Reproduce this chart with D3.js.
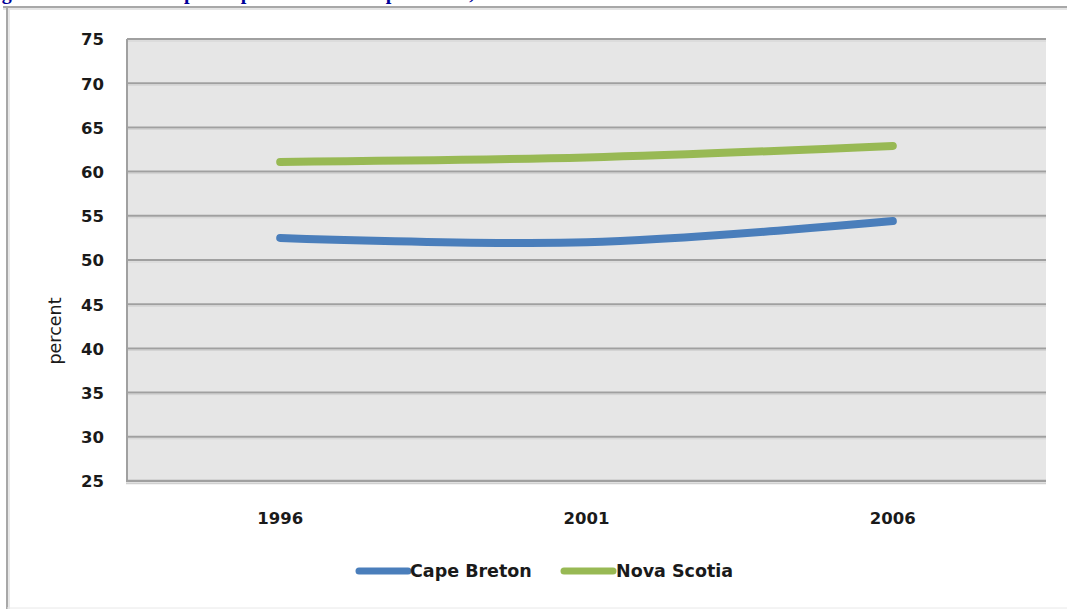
<!DOCTYPE html>
<html>
<head>
<meta charset="utf-8">
<script src="https://cdn.jsdelivr.net/npm/d3@7"></script>
<style>
  html, body { margin: 0; padding: 0; background: #fff; overflow: hidden; }
  svg { display: block; }
</style>
</head>
<body>
<svg id="chart" width="1067" height="609"></svg>
<script>
const titleText = "Figure 7: Labour force participation rate in Cape Breton, 1996 to 2006";
const years = ["1996", "2001", "2006"];
const capeBreton = [52.5, 52.0, 54.4];
const novaScotia = [61.1, 61.6, 62.9];
const seriesNames = ["Cape Breton", "Nova Scotia"];
const seriesColors = ["#4a7ebb", "#98b954"];
const yTicks = [25, 30, 35, 40, 45, 50, 55, 60, 65, 70, 75];
const yLabel = "percent";

const svg = d3.select("#chart");
const W = 1067, H = 609;
const plot = { left: 127, right: 1046, top: 39, bottom: 481 };
const font = "'DejaVu Sans', sans-serif";

// cropped title at very top (the reference shows only its lowest pixels)
svg.append("text")
  .attr("x", -16).attr("y", -1.5)
  .attr("font-family", "'Liberation Serif', serif")
  .attr("font-weight", "bold")
  .attr("font-size", 20)
  .attr("fill", "#000099")
  .text(titleText);

// outer frame
svg.append("line").attr("x1", 3).attr("x2", W).attr("y1", 7).attr("y2", 7)
  .attr("stroke", "#a8a8a8").attr("stroke-width", 2);
svg.append("line").attr("x1", 3).attr("x2", W).attr("y1", 9).attr("y2", 9)
  .attr("stroke", "#dcdcdc").attr("stroke-width", 1.5);
svg.append("line").attr("x1", 7).attr("x2", 7).attr("y1", 7).attr("y2", H)
  .attr("stroke", "#a8a8a8").attr("stroke-width", 2);
svg.append("line").attr("x1", 9).attr("x2", 9).attr("y1", 9).attr("y2", H)
  .attr("stroke", "#e0e0e0").attr("stroke-width", 1.5);
svg.append("line").attr("x1", 7).attr("x2", W).attr("y1", 608).attr("y2", 608)
  .attr("stroke", "#e8e8e8").attr("stroke-width", 1);

const x = d3.scaleBand().domain(years).range([plot.left, plot.right]);
const y = d3.scaleLinear().domain([25, 75]).range([plot.bottom, plot.top]);

// plot background
svg.append("rect")
  .attr("x", plot.left).attr("y", plot.top)
  .attr("width", plot.right - plot.left).attr("height", plot.bottom - plot.top)
  .attr("fill", "#e6e6e6");

// gridlines
const grid = svg.append("g");
grid.selectAll("line.g").data(yTicks.filter(t => t !== 25)).join("line")
  .attr("class", "g")
  .attr("x1", plot.left).attr("x2", plot.right)
  .attr("y1", d => y(d)).attr("y2", d => y(d))
  .attr("stroke", "#a0a0a0").attr("stroke-width", 2);
grid.selectAll("line.s").data(yTicks.filter(t => t !== 25)).join("line")
  .attr("class", "s")
  .attr("x1", plot.left).attr("x2", plot.right)
  .attr("y1", d => y(d) + 2).attr("y2", d => y(d) + 2)
  .attr("stroke", "#d2d2d2").attr("stroke-width", 1);

// left axis line
svg.append("line").attr("x1", plot.left).attr("x2", plot.left)
  .attr("y1", plot.top).attr("y2", plot.bottom + 1)
  .attr("stroke", "#a0a0a0").attr("stroke-width", 2);
// bottom axis line
svg.append("line").attr("x1", plot.left - 1).attr("x2", plot.right)
  .attr("y1", y(25)).attr("y2", y(25))
  .attr("stroke", "#a0a0a0").attr("stroke-width", 2.5);
svg.append("line").attr("x1", plot.left - 1).attr("x2", plot.right)
  .attr("y1", y(25) + 2.5).attr("y2", y(25) + 2.5)
  .attr("stroke", "#d0d0d0").attr("stroke-width", 1.5);

// y axis via d3
const yAxis = d3.axisLeft(y).tickValues(yTicks).tickSize(0).tickPadding(0);
const ya = svg.append("g").attr("transform", `translate(104,0)`).call(yAxis);
ya.select(".domain").remove();
ya.selectAll("text")
  .attr("font-family", font).attr("font-weight", "bold")
  .attr("font-size", 16.5).attr("fill", "#1a1a1a").attr("dy", "0.36em");

// x axis via d3
const xAxis = d3.axisBottom(x).tickSize(0).tickPadding(0);
const xa = svg.append("g").attr("transform", `translate(0,518)`).call(xAxis);
xa.select(".domain").remove();
xa.selectAll("text")
  .attr("font-family", font).attr("font-weight", "bold")
  .attr("font-size", 16.5).attr("fill", "#1a1a1a").attr("dy", "0.36em");

// y label
svg.append("text")
  .attr("transform", "translate(55,331) rotate(-90)")
  .attr("text-anchor", "middle").attr("dominant-baseline", "central")
  .attr("font-family", font).attr("font-weight", "normal")
  .attr("font-size", 17.5).attr("fill", "#1a1a1a")
  .text(yLabel);

// lines
const line = d3.line()
  .x((d, i) => x(years[i]) + x.bandwidth() / 2)
  .y(d => y(d))
  .curve(d3.curveCatmullRom.alpha(0.5));

[capeBreton, novaScotia].forEach((vals, k) => {
  svg.append("path")
    .datum(vals)
    .attr("d", line)
    .attr("fill", "none")
    .attr("stroke", seriesColors[k])
    .attr("stroke-width", 8)
    .attr("stroke-linecap", "round")
    .attr("stroke-linejoin", "round");
});

// legend
const legendPos = [{ x1: 359, x2: 408, tx: 410 }, { x1: 564, x2: 613, tx: 616 }];
seriesNames.forEach((name, k) => {
  const p = legendPos[k];
  svg.append("line")
    .attr("x1", p.x1).attr("x2", p.x2).attr("y1", 571).attr("y2", 571)
    .attr("stroke", seriesColors[k]).attr("stroke-width", 7)
    .attr("stroke-linecap", "round");
  svg.append("text")
    .attr("x", p.tx).attr("y", 571).attr("dy", "0.36em")
    .attr("font-family", font).attr("font-weight", "bold")
    .attr("font-size", 17.5).attr("fill", "#1a1a1a")
    .text(name);
});
</script>
</body>
</html>
